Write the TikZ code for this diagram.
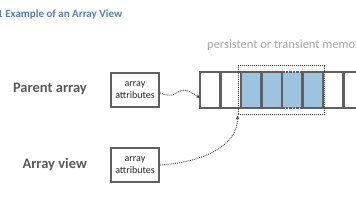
\documentclass[tikz,border=0pt]{standalone}
\usepackage{fontspec}
\setmainfont{Carlito}
\usetikzlibrary{arrows.meta}
\definecolor{titleblue}{HTML}{4F81BD}
\definecolor{boxgray}{HTML}{606060}
\definecolor{labelgray}{HTML}{595959}
\definecolor{memgray}{HTML}{A6A6A6}
\definecolor{cellblue}{HTML}{9DC3E0}
\tikzset{
  attrbox/.style={draw=boxgray, line width=2.2pt, minimum width=48pt, minimum height=34pt, inner sep=0pt, align=center, font=\fontsize{10}{12}\selectfont, text=black!85},
  sidelabel/.style={anchor=east, font=\fontsize{14.5}{16}\selectfont\bfseries, text=labelgray, inner sep=0pt},
  cellbox/.style={draw=boxgray, line width=2.5pt, minimum width=20.5pt, minimum height=36pt, inner sep=0pt, outer sep=0pt},
  bluecell/.style={cellbox, fill=cellblue},
  ptr/.style={densely dotted, line width=0.9pt, draw=black!75, -{Stealth[length=4pt,width=3.5pt]}},
}
\begin{document}
\begin{tikzpicture}[x=1pt,y=-1pt]
\useasboundingbox (0,0) rectangle (356,200);
\node[anchor=base west, inner sep=0pt, font=\fontsize{11}{13}\selectfont\bfseries, text=titleblue] (title) at (-3,18) {1 Example of an Array View};
\node[anchor=base west, inner sep=0pt, font=\fontsize{12.5}{14}\selectfont, text=memgray] (mem) at (207,49) {persistent or transient memory};
\node[sidelabel] (parent) at (87,89) {Parent array};
\node[sidelabel] (view) at (87,165) {Array view};
\node[attrbox] (a1) at (135,90) {array\\attributes};
\node[attrbox] (a2) at (135,165) {array\\attributes};
% array cells
\node[cellbox] (c1) at (210.25,90) {};
\node[cellbox] (c2) at (230.75,90) {};
\node[bluecell] (c3) at (251.25,90) {};
\node[bluecell] (c4) at (271.75,90) {};
\node[fill=cellblue, minimum width=20.5pt, minimum height=36pt, inner sep=0pt, outer sep=0pt] (c5) at (292.25,90) {};
\draw[boxgray, line width=2.5pt, densely dotted] (c5.north west) -- (c5.north east) (c5.south west) -- (c5.south east);
\node[bluecell] (c6) at (312.75,90) {};
\node[cellbox] (c7) at (333.25,90) {};
\node[cellbox] (c8) at (353.75,90) {};
\draw[boxgray, line width=2.5pt] (c4.north east) -- (c4.south east) (c6.north west) -- (c6.south west);
% view region
\node[draw=black!80, densely dotted, line width=1pt, minimum width=86pt, minimum height=49pt, inner sep=0pt] (region) at (281,90.5) {};
% pointers
\coordinate (t1) at ([yshift=-8pt]c1.west);
\draw[ptr] (a1.east) ++(0,3) .. controls (182,102) and (174,80) .. (t1);
\draw[ptr] (a2.east) .. controls (205,162) and (238,145) .. (region.south west);
\end{tikzpicture}
\end{document}
